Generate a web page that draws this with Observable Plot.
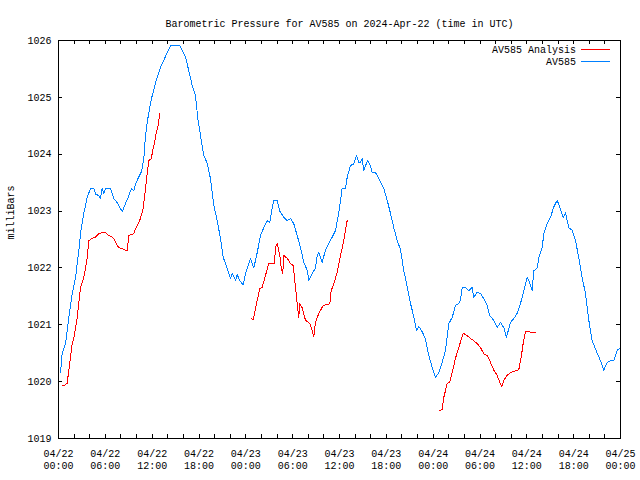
<!DOCTYPE html>
<html><head><meta charset="utf-8">
<script src="https://cdn.jsdelivr.net/npm/d3@7"></script>
<script src="https://cdn.jsdelivr.net/npm/@observablehq/plot@0.6"></script>
<style>body{margin:0;background:#fff} svg{display:block}</style>
</head><body><div id="chart"></div>
<script>
const titleText = "Barometric Pressure for AV585 on 2024-Apr-22 (time in UTC)";
const yLabel = "milliBars";
const seriesNames = ["AV585 Analysis", "AV585"];
const seriesColors = ["#ff0000", "#0080ff"];
const startTime = "2024-04-22T00:00:00Z";
const xDomainHours = [0, 72];
const yDomain = [1019, 1026];
const yTicks = [1019, 1020, 1021, 1022, 1023, 1024, 1025, 1026];
const xLabelHours = [0, 6, 12, 18, 24, 30, 36, 42, 48, 54, 60, 66, 72];
const xTickHours = [0,2,4,6,8,10,12,14,16,18,20,22,24,26,28,30,32,34,36,38,40,42,44,46,48,50,52,54,56,58,60,62,64,66,68,70,72];

// AV585 (blue): hours since start, pressure (mb)
const blueHours = [0.26,0.47,0.90,1.32,1.76,2.18,2.60,2.91,3.24,3.68,4.10,4.52,4.74,5.16,5.38,5.60,5.80,6.02,6.66,7.08,7.52,7.72,8.16,8.58,9.01,9.35,9.65,9.86,10.08,10.50,10.63,10.93,11.15,11.36,11.66,12.00,12.21,12.43,12.72,13.07,13.49,13.93,14.35,15.54,15.85,16.27,16.69,17.13,17.55,17.85,18.19,18.61,19.05,19.47,19.90,20.33,20.75,21.10,21.61,22.03,22.25,22.68,22.89,23.23,23.66,23.96,24.60,25.02,25.46,25.88,26.30,26.74,27.07,27.38,27.58,28.02,28.35,28.86,29.30,29.72,30.14,30.58,31.00,31.43,31.86,32.07,32.50,32.92,33.14,33.35,33.78,34.20,34.63,35.06,35.49,35.91,36.34,36.77,36.98,37.41,37.83,38.18,38.47,38.69,38.91,39.11,39.33,39.62,39.97,40.19,40.61,41.03,41.67,42.11,42.53,42.95,43.39,43.81,44.24,44.67,45.09,45.52,45.86,46.16,46.59,47.02,47.36,47.87,48.30,48.72,49.16,49.58,50.00,50.44,50.86,51.28,51.50,51.72,52.14,52.56,53.00,53.20,53.64,54.06,54.48,54.92,55.25,55.77,56.20,56.62,57.05,57.39,57.90,58.33,58.76,59.18,59.61,60.04,60.25,60.68,60.89,61.33,61.53,61.97,62.17,62.61,63.03,63.45,63.89,64.22,64.66,64.95,65.37,65.81,66.23,66.66,67.09,67.51,67.94,68.37,69.01,69.43,69.86,70.29,70.72,71.14,71.57,72.0];
const bluePressure = [1020.16,1020.5,1020.67,1021.13,1021.55,1021.83,1022.3,1022.7,1022.96,1023.24,1023.4,1023.4,1023.3,1023.27,1023.22,1023.4,1023.3,1023.4,1023.4,1023.22,1023.15,1023.1,1022.99,1023.13,1023.27,1023.4,1023.36,1023.48,1023.54,1023.66,1023.69,1023.92,1024.33,1024.56,1024.8,1025.03,1025.12,1025.27,1025.38,1025.53,1025.65,1025.79,1025.91,1025.91,1025.82,1025.71,1025.47,1025.21,1025.03,1024.63,1024.33,1023.98,1023.84,1023.57,1023.1,1022.83,1022.52,1022.19,1021.99,1021.81,1021.9,1021.78,1021.88,1021.78,1021.7,1021.9,1022.17,1022.0,1022.27,1022.57,1022.71,1022.83,1022.8,1023.05,1023.19,1023.19,1023.0,1022.89,1022.83,1022.87,1022.78,1022.57,1022.36,1022.1,1021.96,1021.78,1021.9,1022.0,1022.22,1022.27,1022.1,1022.31,1022.43,1022.54,1022.66,1022.97,1023.4,1023.4,1023.59,1023.8,1023.83,1023.98,1023.86,1023.86,1023.92,1023.71,1023.8,1023.89,1023.8,1023.68,1023.68,1023.57,1023.4,1023.19,1022.96,1022.71,1022.48,1022.33,1021.95,1021.67,1021.38,1021.14,1020.9,1020.97,1020.88,1020.75,1020.5,1020.25,1020.07,1020.16,1020.34,1020.55,1021.02,1021.13,1021.34,1021.37,1021.43,1021.66,1021.66,1021.6,1021.66,1021.48,1021.57,1021.55,1021.46,1021.34,1021.16,1021.08,1020.95,1021.04,1020.95,1020.78,1021.04,1021.11,1021.2,1021.37,1021.6,1021.83,1021.78,1021.6,1021.95,1022.0,1022.18,1022.36,1022.6,1022.78,1022.89,1023.07,1023.19,1023.07,1022.89,1022.97,1022.71,1022.66,1022.48,1022.18,1021.83,1021.55,1021.08,1020.72,1020.5,1020.37,1020.2,1020.34,1020.37,1020.37,1020.55,1020.6];

// AV585 Analysis (red): three separate runs
const redHours1 = [0.47,0.68,1.11,1.32,1.76,1.96,2.40,2.82,3.24,3.46,3.68,3.88,4.32,4.74,5.16,5.60,6.02,6.44,6.88,7.08,7.52,7.72,8.16,8.58,8.80,9.01,9.65,9.86,10.29,10.50,10.85,11.15,11.36,11.57,11.88,12.08,12.30,12.52,12.72,12.98];
const redPressure1 = [1019.93,1019.93,1019.97,1020.2,1020.67,1020.76,1021.13,1021.66,1021.83,1022.0,1022.18,1022.48,1022.52,1022.54,1022.6,1022.62,1022.62,1022.57,1022.54,1022.52,1022.4,1022.36,1022.34,1022.31,1022.31,1022.57,1022.6,1022.69,1022.8,1022.87,1023.05,1023.4,1023.65,1023.89,1023.92,1024.07,1024.2,1024.38,1024.47,1024.72];
const redHours2 = [24.69,24.94,25.11,25.46,25.79,26.10,26.52,26.94,27.67,27.80,28.02,28.35,28.53,28.73,28.86,29.30,29.72,30.07,30.36,30.58,30.78,30.91,31.22,31.64,32.19,32.50,32.71,32.92,33.35,33.91,34.42,34.76,34.93,35.27,35.70,36.13,36.55,36.77,36.98];
const redPressure2 = [1021.11,1021.09,1021.2,1021.43,1021.64,1021.66,1021.87,1022.08,1022.08,1022.36,1022.43,1022.22,1022.0,1021.9,1022.22,1022.17,1022.08,1022.04,1021.66,1021.37,1021.13,1021.37,1021.3,1021.08,1021.02,1020.9,1020.79,1021.04,1021.2,1021.34,1021.36,1021.37,1021.6,1021.72,1021.92,1022.22,1022.48,1022.66,1022.83];
const redHours3 = [48.85,49.16,49.36,49.80,50.13,50.44,50.86,51.28,51.85,52.36,52.78,53.20,53.64,54.06,54.48,54.92,55.34,55.77,56.20,56.53,56.79,57.05,57.48,57.90,58.33,58.97,59.28,59.53,59.83,60.25,60.68,61.11];
const redPressure3 = [1019.49,1019.51,1019.72,1019.97,1019.99,1020.16,1020.41,1020.6,1020.85,1020.81,1020.76,1020.72,1020.67,1020.6,1020.49,1020.46,1020.34,1020.2,1020.11,1019.99,1019.92,1020.02,1020.11,1020.16,1020.18,1020.21,1020.43,1020.67,1020.88,1020.88,1020.86,1020.86];

const t0 = new Date(startTime).getTime();
const toDate = h => new Date(t0 + h * 3600e3);

const blueData = blueHours.map((h, i) => ({t: toDate(h), p: bluePressure[i]}));
const redData = [
  [redHours1, redPressure1],
  [redHours2, redPressure2],
  [redHours3, redPressure3]
].flatMap(([hs, ps], s) => hs.map((h, i) => ({t: toDate(h), p: ps[i], seg: s})));

const W = 640, H = 480, mT = 40, mB = 42, mL = 58, mR = 20;
const frameW = W - mL - mR, frameH = H - mT - mB, tickLen = 4;
const font = "'Liberation Mono', 'DejaVu Sans Mono', monospace";

const fmt = d3.utcFormat("%m/%d\n%H:%M");
const crisp = {shapeRendering: "crispEdges"};

const chart = Plot.plot({
  width: W, height: H,
  marginTop: mT, marginBottom: mB, marginLeft: mL, marginRight: mR,
  style: {fontFamily: font, fontSize: "10px", background: "#fff", color: "#000"},
  x: {type: "utc", domain: xDomainHours.map(toDate)},
  y: {domain: yDomain},
  marks: [
    Plot.line(redData, {x: "t", y: "p", z: "seg", stroke: seriesColors[0], strokeWidth: 1, ...crisp}),
    Plot.line(blueData, {x: "t", y: "p", stroke: seriesColors[1], strokeWidth: 1, ...crisp}),
    Plot.tickX(xTickHours.map(toDate), {x: d => d, insetTop: frameH - tickLen, stroke: "#000", ...crisp}),
    Plot.tickX(xTickHours.map(toDate), {x: d => d, insetBottom: frameH - tickLen, stroke: "#000", ...crisp}),
    Plot.tickY(yTicks, {y: d => d, insetRight: frameW - tickLen, stroke: "#000", ...crisp}),
    Plot.tickY(yTicks, {y: d => d, insetLeft: frameW - tickLen, stroke: "#000", ...crisp}),
    Plot.frame({stroke: "#000", ...crisp}),
    Plot.axisX(xLabelHours.map(toDate), {anchor: "bottom", tickSize: 0, tickPadding: 10, tickFormat: fmt, lineHeight: 1.2, label: null}),
    Plot.axisY(yTicks, {anchor: "left", tickSize: 0, tickPadding: 7, tickFormat: d => String(d), label: null}),
    Plot.text([titleText], {text: d => d, frameAnchor: "top", dy: -21}),
    Plot.text([yLabel], {text: d => d, frameAnchor: "left", rotate: -90, dx: -48})
  ]
});

// legend (top-right, inside frame)
const svg = d3.select(chart);
const lg = svg.append("g").attr("font-family", font).attr("font-size", 10);
seriesNames.forEach((name, i) => {
  const y = 49 + i * 12;
  lg.append("text").attr("x", 576).attr("y", y).attr("dy", "0.35em").attr("text-anchor", "end").text(name);
  lg.append("line").attr("x1", 581).attr("x2", 610).attr("y1", y + 0.5).attr("y2", y + 0.5)
    .attr("stroke", seriesColors[i]).attr("stroke-width", 1);
});

document.getElementById("chart").appendChild(chart);
</script>
</body></html>
